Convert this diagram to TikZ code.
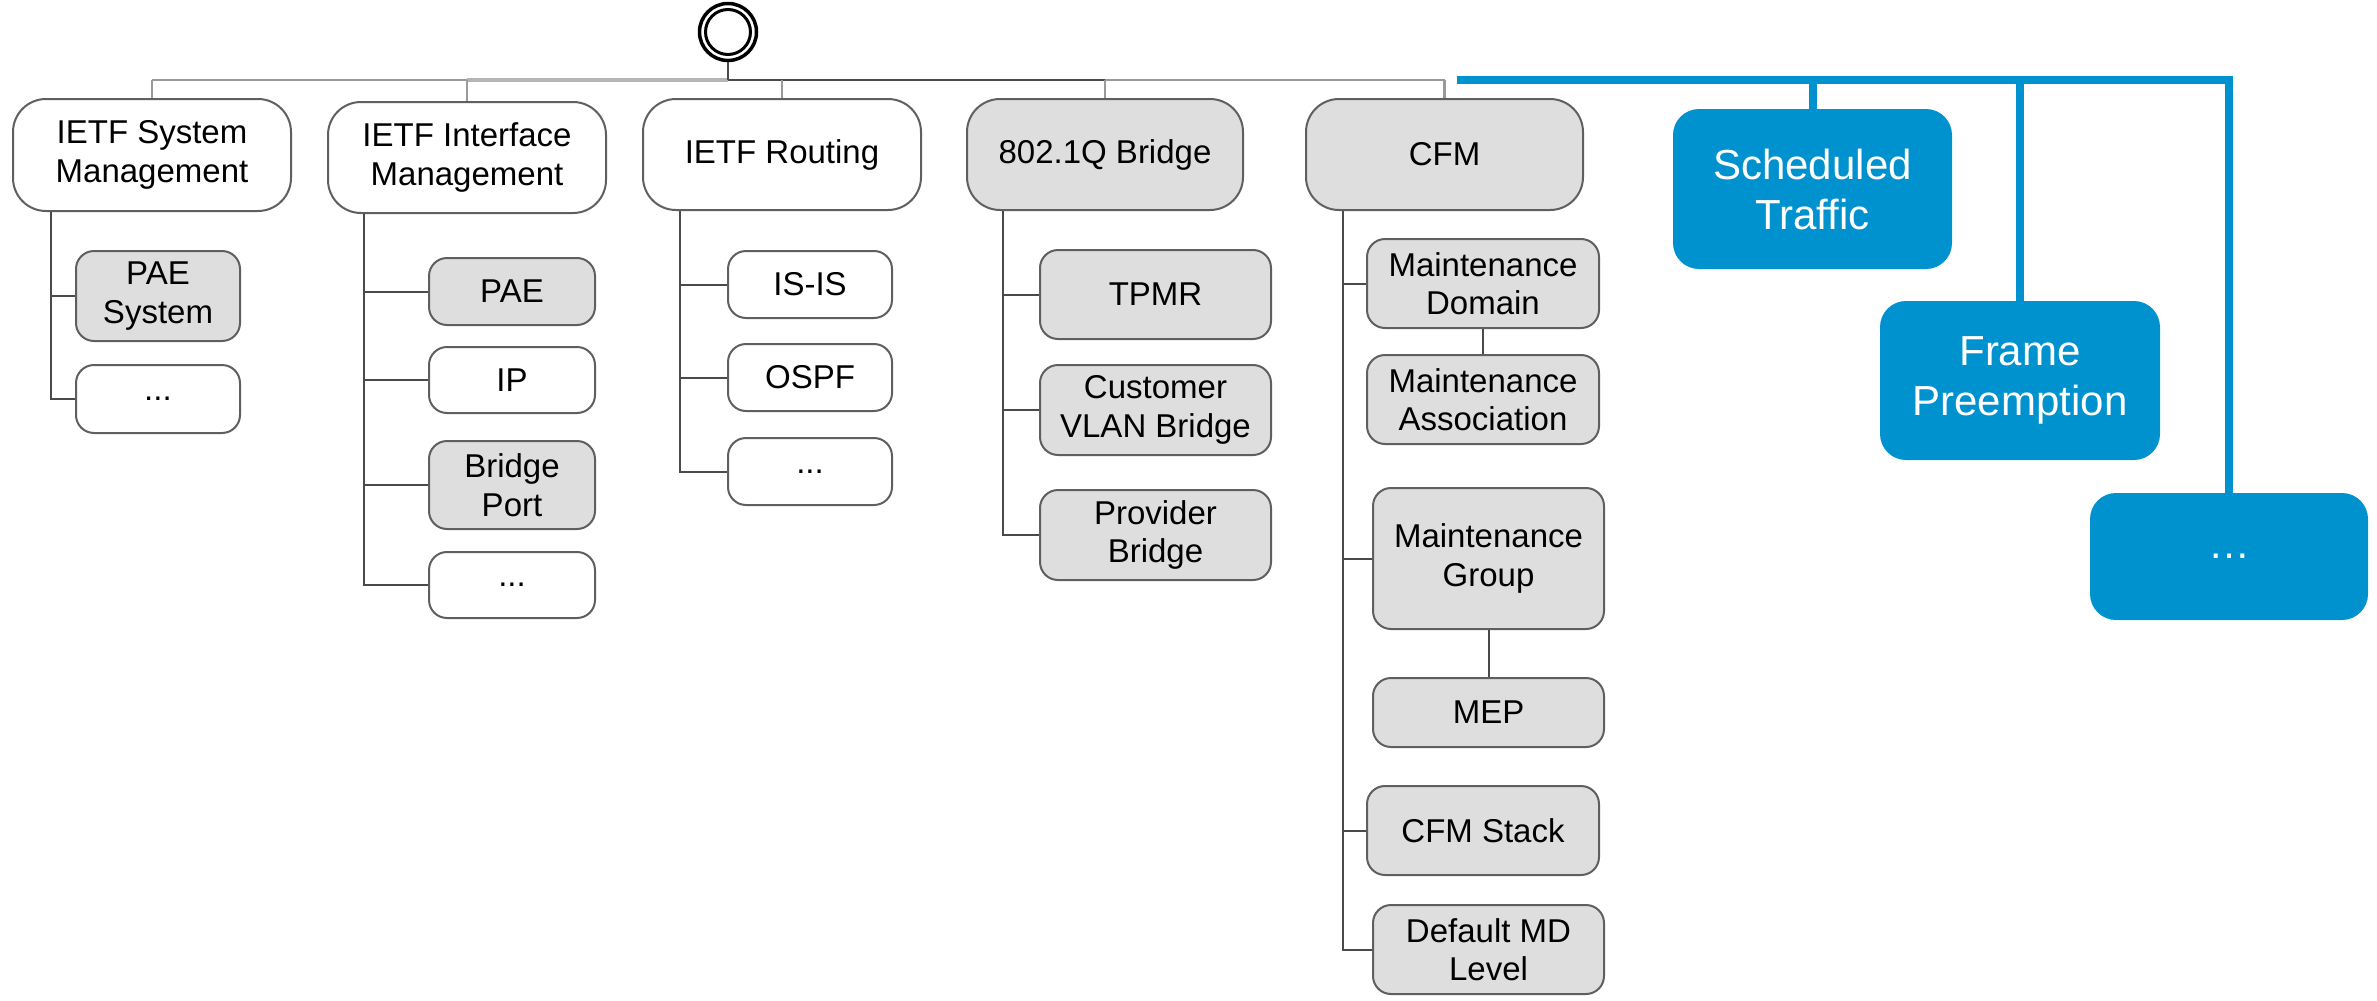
\documentclass[tikz,border=0pt]{standalone}
\usepackage{fontspec}
\setmainfont{Liberation Sans}
\definecolor{boxgray}{HTML}{DEDEDE}
\definecolor{edgegray}{HTML}{5F5F5F}
\definecolor{linegray}{HTML}{4A4A4A}
\definecolor{bargray}{HTML}{9A9A9A}
\definecolor{barlight}{HTML}{B4B4B4}
\definecolor{tsnblue}{HTML}{0092CF}
\tikzset{
 base/.style={draw=edgegray, line width=2pt, align=center, inner sep=0pt, font=\fontsize{33}{38.5}\selectfont, text=black},
 topbox/.style={base, rounded corners=33pt, fill=white},
 kid/.style={base, rounded corners=18pt, fill=white},
 shade/.style={fill=boxgray},
 bluebox/.style={fill=tsnblue, draw=none, rounded corners=26pt, align=center, text=white, font=\fontsize{42}{50}\selectfont, inner sep=0pt},
 conn/.style={draw=linegray, line width=2pt},
 barline/.style={draw=bargray, line width=2.5pt},
 barthick/.style={draw=barlight, line width=4pt},
 blueline/.style={draw=tsnblue, line width=8pt, line join=miter},
}
\begin{document}
\begin{tikzpicture}[x=1pt,y=-1pt]
\useasboundingbox (0,0) rectangle (2377,1001);
% root
\node[circle, draw=black, line width=3.5pt, minimum size=57pt, inner sep=0pt] (root) at (728,32) {};
\node[circle, draw=black, line width=3pt, minimum size=45pt, inner sep=0pt] (rootin) at (root.center) {};
% top level
\node[topbox, minimum width=278pt, minimum height=112pt] (n1) at (152,155) {IETF System\\Management};
\node[topbox, minimum width=278pt, minimum height=111pt] (n2) at (467,157.5) {IETF Interface\\Management};
\node[topbox, minimum width=278pt, minimum height=111pt] (n3) at (782,154.5) {IETF Routing};
\node[topbox, shade, minimum width=276pt, minimum height=111pt] (n4) at (1105,154.5) {802.1Q Bridge};
\node[topbox, shade, minimum width=277pt, minimum height=111pt] (n5) at (1444.5,154.5) {CFM};
% bar
\coordinate (barL) at (152,80);
\coordinate (barR) at (1444.5,80);
\draw[barline] (barL) -- (barR);
\draw[barthick] (n2.north |- barL) -- (root.south |- barL);
\draw[conn] (root.south |- barL) -- (n4.north |- barL);
\draw[conn] (root.south) -- (root.south |- barL);
\draw[barline] (barL) -- (n1.north);
\draw[barline] (n2.north |- barL) -- (n2.north);
\draw[barline] (n3.north |- barL) -- (n3.north);
\draw[barline] (n4.north |- barL) -- (n4.north);
\draw[barline] (barR) -- (n5.north);
% column 1
\node[kid, shade, minimum width=164pt, minimum height=90pt] (a1) at (158,296) {PAE\\System};
\node[kid, minimum width=164pt, minimum height=68pt] (a2) at (158,399) {...};
\coordinate (s1) at (51,0);
\draw[conn] (s1 |- n1.south) |- (a1.west);
\draw[conn] (s1 |- n1.south) |- (a2.west);
% column 2
\node[kid, shade, minimum width=166pt, minimum height=67pt] (b1) at (512,291.5) {PAE};
\node[kid, minimum width=166pt, minimum height=66pt] (b2) at (512,380) {IP};
\node[kid, shade, minimum width=166pt, minimum height=88pt] (b3) at (512,485) {Bridge\\Port};
\node[kid, minimum width=166pt, minimum height=66pt] (b4) at (512,585) {...};
\coordinate (s2) at (364,0);
\draw[conn] (s2 |- n2.south) |- (b1.west);
\draw[conn] (s2 |- n2.south) |- (b2.west);
\draw[conn] (s2 |- n2.south) |- (b3.west);
\draw[conn] (s2 |- n2.south) |- (b4.west);
% column 3
\node[kid, minimum width=164pt, minimum height=67pt] (c1) at (810,284.5) {IS-IS};
\node[kid, minimum width=164pt, minimum height=67pt] (c2) at (810,377.5) {OSPF};
\node[kid, minimum width=164pt, minimum height=67pt] (c3) at (810,471.5) {...};
\coordinate (s3) at (680,0);
\draw[conn] (s3 |- n3.south) |- (c1.west);
\draw[conn] (s3 |- n3.south) |- (c2.west);
\draw[conn] (s3 |- n3.south) |- (c3.west);
% column 4
\node[kid, shade, minimum width=231pt, minimum height=89pt] (d1) at (1155.5,294.5) {TPMR};
\node[kid, shade, minimum width=231pt, minimum height=90pt] (d2) at (1155.5,410) {Customer\\VLAN Bridge};
\node[kid, shade, minimum width=231pt, minimum height=90pt] (d3) at (1155.5,535) {Provider\\Bridge};
\coordinate (s4) at (1003,0);
\draw[conn] (s4 |- n4.south) |- (d1.west);
\draw[conn] (s4 |- n4.south) |- (d2.west);
\draw[conn] (s4 |- n4.south) |- (d3.west);
% column 5
\node[kid, shade, minimum width=232pt, minimum height=89pt] (e1) at (1483,283.5) {Maintenance\\Domain};
\node[kid, shade, minimum width=232pt, minimum height=89pt] (e2) at (1483,399.5) {Maintenance\\Association};
\node[kid, shade, minimum width=231pt, minimum height=141pt] (e3) at (1488.5,558.5) {Maintenance\\Group};
\node[kid, shade, minimum width=231pt, minimum height=69pt] (e4) at (1488.5,712.5) {MEP};
\node[kid, shade, minimum width=232pt, minimum height=89pt] (e5) at (1483,830.5) {CFM Stack};
\node[kid, shade, minimum width=231pt, minimum height=89pt] (e6) at (1488.5,949.5) {Default MD\\Level};
\coordinate (s5) at (1343,0);
\draw[conn] (s5 |- n5.south) |- (e1.west);
\draw[conn] (s5 |- n5.south) |- (e3.west);
\draw[conn] (s5 |- n5.south) |- (e5.west);
\draw[conn] (s5 |- n5.south) |- (e6.west);
\draw[conn] (e1.south) -- (e2.north);
\draw[conn] (e3.south) -- (e4.north);
% blue
\node[bluebox, minimum width=279pt, minimum height=160pt] (f1) at (1812.5,189) {Scheduled\\Traffic};
\node[bluebox, minimum width=280pt, minimum height=159pt] (f2) at (2020,380.5) {Frame\\Preemption};
\node[bluebox, minimum width=278pt, minimum height=127pt] (f3) at (2229,556.5) {…};
\coordinate (bs) at (1457,80);
\draw[blueline] (bs) -- (f3.north |- bs) -- (f3.north);
\draw[blueline] (f1.north |- bs) -- (f1.north);
\draw[blueline] (f2.north |- bs) -- (f2.north);
\end{tikzpicture}
\end{document}
